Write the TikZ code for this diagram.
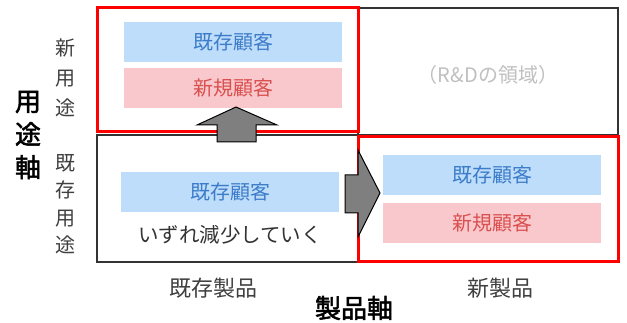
\documentclass[tikz,border=0pt]{standalone}
\usepackage{fontspec}
\setmainfont{Noto Sans CJK JP}
\newfontfamily\jpbold{Noto Sans CJK JP}[FakeBold=2]
\definecolor{bluefill}{HTML}{BDDDFB}
\definecolor{bluetext}{HTML}{3D7CC9}
\definecolor{pinkfill}{HTML}{F9C8CC}
\definecolor{redtext}{HTML}{D9504F}
\definecolor{frame}{HTML}{333333}
\definecolor{redframe}{HTML}{FF0000}
\definecolor{arrowgray}{HTML}{7F7F7F}
\definecolor{labelgray}{HTML}{404040}
\definecolor{rdgray}{HTML}{C0C0C0}
\begin{document}
\begin{tikzpicture}[x=1pt,y=-1pt,
  bluebox/.style={fill=bluefill,text=bluetext,minimum width=218pt,minimum height=40pt,inner sep=0pt,font=\fontsize{20}{22}\selectfont},
  pinkbox/.style={fill=pinkfill,text=redtext,minimum width=218pt,minimum height=40pt,inner sep=0pt,font=\fontsize{20}{22}\selectfont},
  quad/.style={draw=frame,line width=1.2pt},
  redquad/.style={draw=redframe,line width=3pt},
  blockarrow/.style={draw=black,fill=arrowgray,line width=1pt,line join=miter},
  vlabel/.style={text=labelgray,align=center,inner sep=0pt},
  axislabel/.style={text=black,align=center,inner sep=0pt},
  caption/.style={text=labelgray,inner sep=0pt,font=\fontsize{22}{24}\selectfont}
]
\useasboundingbox (0,0) rectangle (627,323);
\fill[white] (0,0) rectangle (627,323);
% quadrants
\draw[quad] (358,8) rectangle (618,135);
\draw[quad] (97,135) rectangle (358,262);
\draw[redquad] (97,8) rectangle (358,132);
\draw[redquad] (358,137) rectangle (618,262);
% top-left quadrant
\node[bluebox] (tlblue) at (233,42) {既存顧客};
\node[pinkbox] (tlpink) at (233,88) {新規顧客};
% top-right
\node[text=rdgray,font=\fontsize{20}{22}\selectfont] (rd) at (488,75) {（R\&Dの領域）};
% bottom-left
\node[bluebox] (blblue) at (230,192) {既存顧客};
\node[text=black!80,inner sep=0pt,font=\fontsize{20.5}{22}\selectfont] (decline) at (230,235) {いずれ減少していく};
% bottom-right
\node[bluebox] (brblue) at (492,175) {既存顧客};
\node[pinkbox] (brpink) at (492,223) {新規顧客};
% arrows
\draw[blockarrow] (236,107) -- (277,125) -- (256,125) -- (256,142) -- (217,142) -- (217,125) -- (197,125) -- cycle;
\draw[blockarrow] (380,193) -- (358,237) -- (358,213) -- (345,213) -- (345,175) -- (358,175) -- (358,150) -- cycle;
% axis labels
\node[vlabel,font=\fontsize{20}{30}\selectfont] (newuse) at (65,78) {新\\用\\途};
\node[vlabel,font=\fontsize{20}{27.5}\selectfont] (olduse) at (65,204) {既\\存\\用\\途};
\node[axislabel,font=\jpbold\fontsize{26}{33}\selectfont] (useaxis) at (28,135) {用\\途\\軸};
\node[caption] (oldprod) at (213,288) {既存製品};
\node[caption] (newprod) at (500,288) {新製品};
\node[axislabel,font=\jpbold\fontsize{26}{28}\selectfont] (prodaxis) at (354,308) {製品軸};
\end{tikzpicture}
\end{document}
